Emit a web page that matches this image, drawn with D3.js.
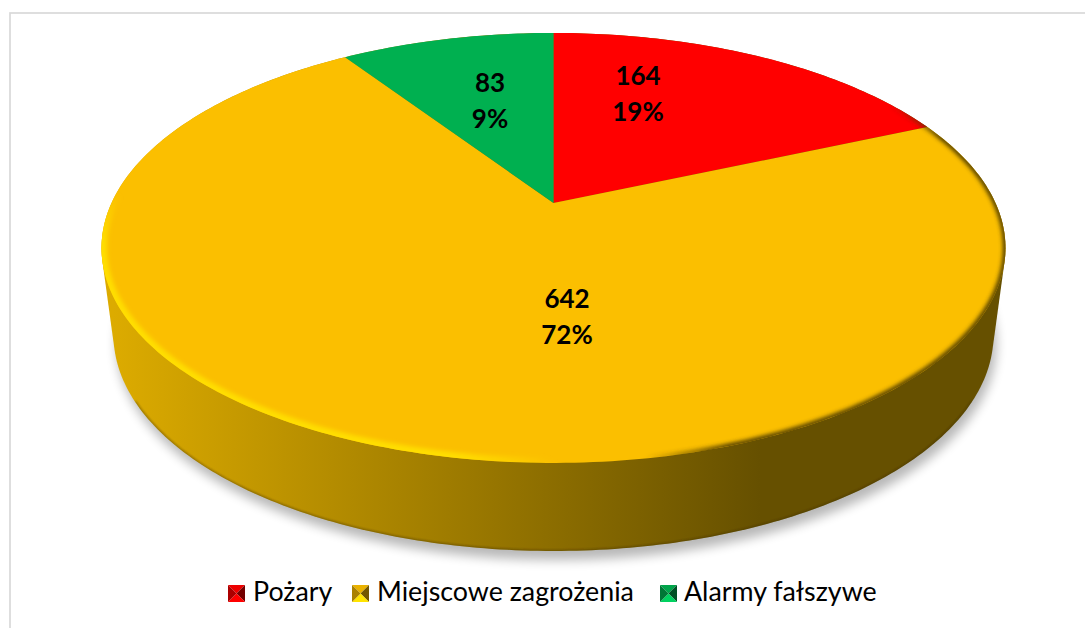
<!DOCTYPE html>
<html><head><meta charset="utf-8">
<script src="https://cdn.jsdelivr.net/npm/d3@7"></script>
<style>html,body{margin:0;padding:0;background:#fff;overflow:hidden}svg{display:block}text{font-family:Lato,"Open Sans",sans-serif;fill:#000}</style>
</head><body><svg id="c" width="1085" height="628"></svg>
<script>
const categories = ["Pożary", "Miejscowe zagrożenia", "Alarmy fałszywe"];
const values = [164, 642, 83];
const percentLabels = ["19%", "72%", "9%"];
const colors = ["#ff0000", "#fbbf00", "#00b050"];

const W = 1085, H = 628;
const svg = d3.select("#c");
const defs = svg.append("defs");

// perspective projection of the unit disc on to the page
const apex = [553.5, 203], A = 442, B = 205.6, K = -0.209;
const project = (u, v) => { const d = 1 + K * v; return [apex[0] + A * u / d, apex[1] + B * v / d]; };
const onRim = a => project(Math.sin(a), -Math.cos(a));
const TAU = Math.PI * 2;
const arcPts = (a0, a1) => d3.range(0, 1.0001, 1 / Math.max(8, Math.ceil((a1 - a0) * 60))).map(t => onRim(a0 + (a1 - a0) * t));
const line = d3.line();

const pie = d3.pie().sort(null).value(d => d);
const arcs = pie(values);
const topOutline = arcPts(0, TAU);

// lower edge of the drum
const base = {cx: 553.5, cy: 335, rx: 440, ry: 216};
const baseAt = t => { const r = t * Math.PI / 180; return [base.cx + base.rx * Math.cos(r), base.cy + base.ry * Math.sin(r)]; };
const baseOutline = d3.range(0, 360, 1).map(baseAt);
const baseFront = d3.range(18, 163, 1).map(baseAt);
const hull = d3.polygonHull(topOutline.concat(baseOutline));
const closed = p => line(p) + "Z";

// defs
const blur = (id, s) => defs.append("filter").attr("id", id)
  .attr("x", "-10%").attr("y", "-10%").attr("width", "120%").attr("height", "120%")
  .append("feGaussianBlur").attr("stdDeviation", s);
blur("bShadow", 5.5); blur("bRim", 2); blur("bEdge", 1);

const grad = (id, x1, y1, x2, y2, stops) => {
  const g = defs.append("linearGradient").attr("id", id).attr("gradientUnits", "userSpaceOnUse")
    .attr("x1", x1).attr("y1", y1).attr("x2", x2).attr("y2", y2);
  stops.forEach(s => g.append("stop").attr("offset", s[0]).attr("stop-color", s[1]).attr("stop-opacity", s[2] === undefined ? 1 : s[2]));
};
grad("side", 113, 0, 760, 0, [[0, "#dcab00"], [1, "#665000"]]);
grad("rimLight", 120, 195, 94, 237.5, [[0, "#ffde00", 0], [1, "#ffde00", 1]]);
grad("rimDark", 880, 120, 929, 154, [[0, "#4a3800", 0], [1, "#4a3800", 1]]);
defs.append("clipPath").attr("id", "clipTop").append("path").attr("d", closed(topOutline));
defs.append("clipPath").attr("id", "clipHull").append("path").attr("d", closed(hull));

// frame
svg.append("rect").attr("x", 10).attr("y", 13).attr("width", W + 20).attr("height", H + 20)
  .attr("fill", "#fff").attr("stroke", "#d9d9d9").attr("stroke-width", 1.7);

// shadow
svg.append("path").attr("d", closed(baseOutline)).attr("transform", "translate(3,9)")
  .attr("fill", "#000").attr("opacity", 0.28).attr("filter", "url(#bShadow)");

// side
svg.append("path").attr("d", closed(hull)).attr("fill", "url(#side)");
svg.append("g").attr("clip-path", "url(#clipHull)").append("path").attr("d", line(baseFront))
  .attr("fill", "none").attr("stroke", "#3a2c00").attr("stroke-opacity", 0.5).attr("stroke-width", 2).attr("filter", "url(#bEdge)");

// top face slices
svg.append("g").selectAll("path").data(arcs).join("path")
  .attr("d", d => closed([apex].concat(arcPts(d.startAngle, d.endAngle))))
  .attr("fill", (d, i) => colors[i]);

// bevel
const rim = svg.append("g").attr("clip-path", "url(#clipTop)");
rim.append("path").attr("d", closed(topOutline)).attr("fill", "none")
  .attr("stroke", "url(#rimLight)").attr("stroke-width", 11).attr("filter", "url(#bRim)");
rim.append("path").attr("d", closed(topOutline)).attr("fill", "none")
  .attr("stroke", "url(#rimDark)").attr("stroke-width", 5).attr("filter", "url(#bRim)");

// data labels
const labelAnchors = [[638, 94], [567, 317], [490, 100.5]];
const labels = svg.append("g").attr("text-anchor", "middle").attr("font-weight", 700).attr("font-size", 26);
values.forEach((v, i) => {
  labels.append("text").attr("x", labelAnchors[i][0]).attr("y", labelAnchors[i][1] - 9).text(v);
  labels.append("text").attr("x", labelAnchors[i][0]).attr("y", labelAnchors[i][1] + 27).text(percentLabels[i]);
});

// legend
const swatchX = [228, 352, 660], textX = [253, 377, 684], sw = 17, swY = 585;
const legend = svg.append("g");
categories.forEach((c, i) => {
  const g = legend.append("g").attr("transform", `translate(${swatchX[i]},${swY})`);
  const col = d3.color(colors[i]), m = [sw / 2, sw / 2];
  const tris = [
    [[0, 0], [sw, 0], m, col.darker(0.2)],
    [[sw, 0], [sw, sw], m, col.darker(2.2)],
    [[0, sw], [sw, sw], m, col.brighter(0.5)],
    [[0, 0], [0, sw], m, col.darker(1.1)]
  ];
  g.selectAll("path").data(tris).join("path")
    .attr("d", t => closed(t.slice(0, 3))).attr("fill", t => t[3]);
  legend.append("text").attr("x", textX[i]).attr("y", 601).attr("font-size", 26.8).text(c);
});
</script></body></html>
